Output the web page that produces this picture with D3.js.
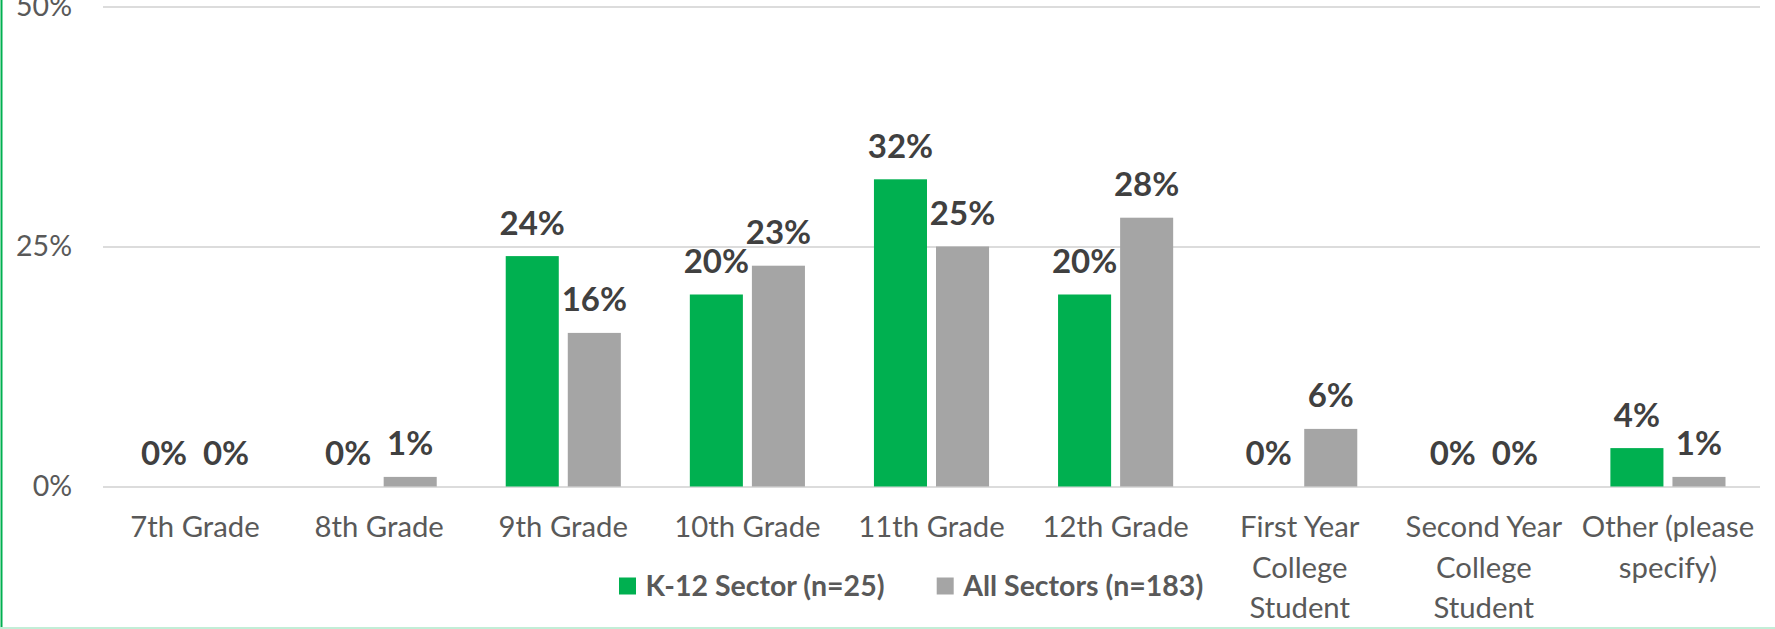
<!DOCTYPE html>
<html>
<head>
<meta charset="utf-8">
<script src="https://cdn.jsdelivr.net/npm/d3@7"></script>
<style>
  html, body { margin: 0; padding: 0; background: #fff; }
  svg { display: block; }
</style>
</head>
<body>
<svg id="chart" width="1775" height="629"></svg>
<script>
// Grade levels surveyed
const categories = [
  "7th Grade", "8th Grade", "9th Grade", "10th Grade", "11th Grade",
  "12th Grade", "First Year College Student", "Second Year College Student",
  "Other (please specify)"
];
// Share of respondents (%) per grade level
const k12Values = [0, 0, 24, 20, 32, 20, 0, 0, 4];
const allValues = [0, 1, 16, 23, 25, 28, 6, 0, 1];
const seriesNames = ["K-12 Sector (n=25)", "All Sectors (n=183)"];
const yTicks = [0, 25, 50];

const colors = ["#00B050", "#A5A5A5"];
const W = 1775, H = 629;
const plot = { left: 103, right: 1760, top: 6.5, bottom: 486.5 };
const FONT = "Lato, 'Open Sans', sans-serif";

const svg = d3.select("#chart");
svg.append("rect").attr("width", W).attr("height", H).attr("fill", "#fff");

const x0 = d3.scaleBand().domain(categories).range([plot.left, plot.right]);
const keys = [0, 1];
const x1 = d3.scaleBand().domain(keys)
  .range([34.5, x0.bandwidth() - 34.5]).paddingInner(9 / 62);
const y = d3.scaleLinear().domain([0, 50]).range([plot.bottom, plot.top]);

// Gridlines and y tick labels
const yAxis = d3.axisLeft(y).tickValues(yTicks)
  .tickSize(-(plot.right - plot.left)).tickPadding(31)
  .tickFormat(d => d + "%");
const gy = svg.append("g").attr("transform", `translate(${plot.left},0)`).call(yAxis);
gy.select(".domain").remove();
gy.selectAll(".tick line").attr("stroke", "#DCDCDC").attr("stroke-width", 2);
gy.selectAll(".tick text")
  .attr("fill", "#595959").style("font-family", FONT).style("font-size", "28.5px");

// Bars
const rows = categories.map((c, i) => ({ cat: c, vals: [k12Values[i], allValues[i]] }));
const groups = svg.append("g").selectAll("g").data(rows).join("g")
  .attr("transform", d => `translate(${x0(d.cat)},0)`);

groups.selectAll("rect").data(d => d.vals.map((v, k) => ({ v, k }))).join("rect")
  .attr("x", d => x1(d.k))
  .attr("width", x1.bandwidth())
  .attr("y", d => y(d.v))
  .attr("height", d => y(0) - y(d.v))
  .attr("fill", d => colors[d.k]);

// Value labels above each bar
groups.selectAll("text.val").data(d => d.vals.map((v, k) => ({ v, k }))).join("text")
  .attr("class", "val")
  .attr("x", d => x1(d.k) + x1.bandwidth() / 2)
  .attr("y", d => y(d.v) - 21.5)
  .attr("text-anchor", "middle")
  .attr("fill", "#404040")
  .style("font-family", FONT).style("font-weight", "bold").style("font-size", "33px")
  .text(d => d.v + "%");

// Category labels, wrapped to the band width
const xl = svg.append("g");
categories.forEach(c => {
  const cx = x0(c) + x0.bandwidth() / 2;
  const t = xl.append("text")
    .attr("text-anchor", "middle").attr("fill", "#595959")
    .style("font-family", FONT).style("font-size", "29.3px");
  const words = c.split(" ");
  let lines = [], cur = [];
  const probe = t.append("tspan");
  words.forEach(w => {
    const test = cur.concat(w).join(" ");
    probe.text(test);
    if (cur.length && probe.node().getComputedTextLength() > x0.bandwidth() - 4) {
      lines.push(cur.join(" "));
      cur = [w];
    } else cur.push(w);
  });
  lines.push(cur.join(" "));
  probe.remove();
  lines.forEach((ln, i) => {
    t.append("tspan").attr("x", cx).attr("y", 537 + i * 40.5).text(ln);
  });
});

// Legend
const legend = svg.append("g");
const legendX = [619, 936.7];
seriesNames.forEach((name, k) => {
  legend.append("rect").attr("x", legendX[k]).attr("y", 577.5)
    .attr("width", 17).attr("height", 17).attr("fill", colors[k]);
  legend.append("text").attr("x", legendX[k] + 26.5).attr("y", 595.5)
    .attr("fill", "#595959")
    .style("font-family", FONT).style("font-weight", "bold").style("font-size", "28.5px")
    .text(name);
});

// Frame edges
svg.append("line").attr("x1", 1.5).attr("x2", 1.5).attr("y1", 0).attr("y2", H)
  .attr("stroke", "#00B050").attr("stroke-width", 2);
svg.append("line").attr("x1", 0).attr("x2", W).attr("y1", 628).attr("y2", 628)
  .attr("stroke", "#C3EED7").attr("stroke-width", 2);
</script>
</body>
</html>
